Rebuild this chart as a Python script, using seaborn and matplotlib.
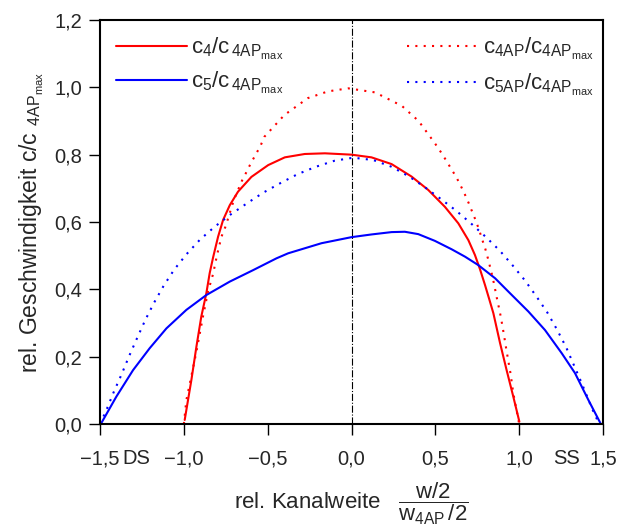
import numpy as np
import pandas as pd
import matplotlib
matplotlib.use("Agg")
import matplotlib.pyplot as plt
import seaborn as sns

# ---- Daten ----
# c4 / c4AP,max  (rot, durchgezogen)
x_c4 = [-0.995, -0.955, -0.925, -0.896, -0.866, -0.846, -0.826, -0.796, -0.766, -0.726,
        -0.677, -0.597, -0.497, -0.398, -0.279, -0.159, 0.0, 0.119, 0.239, 0.358,
        0.458, 0.557, 0.637, 0.697, 0.736, 0.766, 0.796, 0.820, 0.846, 0.886,
        0.925, 0.965, 1.001]
y_c4 = [0.012, 0.131, 0.230, 0.319, 0.388, 0.448, 0.494, 0.556, 0.606, 0.650,
        0.690, 0.734, 0.769, 0.792, 0.802, 0.804, 0.800, 0.792, 0.772, 0.735,
        0.695, 0.645, 0.596, 0.546, 0.502, 0.460, 0.413, 0.373, 0.329, 0.240,
        0.160, 0.081, 0.007]

# c5 / c4AP,max  (blau, durchgezogen)
x_c5 = [-1.493, -1.403, -1.303, -1.204, -1.104, -0.985, -0.866, -0.726, -0.587, -0.448,
        -0.378, -0.179, 0.0, 0.119, 0.239, 0.318, 0.398, 0.497, 0.597, 0.677,
        0.756, 0.856, 0.936, 1.055, 1.154, 1.254, 1.333, 1.413, 1.485]
y_c5 = [0.002, 0.081, 0.160, 0.225, 0.284, 0.339, 0.383, 0.423, 0.457, 0.492,
        0.507, 0.537, 0.555, 0.563, 0.570, 0.571, 0.564, 0.544, 0.519, 0.497,
        0.472, 0.433, 0.393, 0.334, 0.279, 0.210, 0.151, 0.071, 0.002]

# c4AP / c4AP,max  (rot, gepunktet)
x_c4ap = [-1.0, -0.985, -0.925, -0.886, -0.856, -0.826, -0.802, -0.776, -0.752, -0.736,
          -0.702, -0.677, -0.653, -0.627, -0.601, -0.573, -0.543, -0.52, -0.40, -0.26,
          -0.14, -0.02, 0.14, 0.30, 0.40, 0.497, 0.531, 0.563, 0.593, 0.623,
          0.649, 0.675, 0.699, 0.720, 0.742, 0.762, 0.780, 0.798, 0.814, 0.828,
          0.842, 0.854, 0.866, 0.878, 0.890, 0.900, 0.910, 0.919, 0.929, 0.939,
          0.949, 0.957, 0.965, 1.0]
y_c4ap = [0.0, 0.071, 0.215, 0.319, 0.393, 0.445, 0.502, 0.556, 0.586, 0.611,
          0.665, 0.695, 0.723, 0.748, 0.774, 0.799, 0.826, 0.853, 0.918, 0.968,
          0.988, 0.997, 0.985, 0.945, 0.900, 0.834, 0.809, 0.784, 0.759, 0.735,
          0.710, 0.683, 0.656, 0.630, 0.603, 0.575, 0.547, 0.520, 0.491, 0.463,
          0.435, 0.406, 0.376, 0.348, 0.319, 0.291, 0.262, 0.234, 0.205, 0.176,
          0.148, 0.119, 0.091, 0.0]

# c5AP / c4AP,max  (blau, gepunktet)
x_c5ap = [-1.5, -1.463, -1.419, -1.371, -1.327, -1.279, -1.230, -1.178, -1.120, -1.057,
          -0.983, -0.903, -0.816, -0.722, -0.625, -0.527, -0.426, -0.322, -0.213, -0.101,
          0.01, 0.130, 0.239, 0.344, 0.438, 0.531, 0.623, 0.712, 0.800, 0.884,
          0.961, 1.035, 1.104, 1.168, 1.226, 1.280, 1.327, 1.373, 1.417, 1.439, 1.477]
y_c5ap = [0.0, 0.040, 0.094, 0.148, 0.201, 0.255, 0.309, 0.360, 0.411, 0.459,
          0.505, 0.548, 0.586, 0.622, 0.655, 0.687, 0.715, 0.742, 0.764, 0.782,
          0.791, 0.784, 0.764, 0.735, 0.703, 0.669, 0.634, 0.596, 0.556, 0.515,
          0.471, 0.426, 0.378, 0.331, 0.280, 0.228, 0.174, 0.121, 0.067, 0.041, 0.0]

x_ticks = [-1.5, -1.0, -0.5, 0.0, 0.5, 1.0, 1.5]
x_ticklabels = ["−1,5", "−1,0", "−0,5", "0,0", "0,5", "1,0", "1,5"]
y_ticks = [0.0, 0.2, 0.4, 0.6, 0.8, 1.0, 1.2]
y_ticklabels = ["0,0", "0,2", "0,4", "0,6", "0,8", "1,0", "1,2"]

# ---- Stil ----
sns.set_style("ticks")
plt.rcParams.update({
    "font.family": ["Liberation Sans", "DejaVu Sans"],
    "mathtext.fontset": "custom",
    "mathtext.rm": "Liberation Sans",
    "mathtext.it": "Liberation Sans:italic",
    "mathtext.bf": "Liberation Sans:bold",
    "mathtext.default": "regular",
    "font.size": 14.5,
})

fig = plt.figure(figsize=(6.22, 5.26), dpi=100)
ax = fig.add_axes([0.1608, 0.1939, 0.8087, 0.7681])

dot = (0, (1, 3))
series = [
    (x_c4, y_c4, "red", "-", r"c$_4$/c$_{\,4AP_{max}}$"),
    (x_c5, y_c5, "blue", "-", r"c$_5$/c$_{\,4AP_{max}}$"),
    (x_c4ap, y_c4ap, "red", dot, r"c$_{4AP}$/c$_{4AP_{max}}$"),
    (x_c5ap, y_c5ap, "blue", dot, r"c$_{5AP}$/c$_{4AP_{max}}$"),
]
for xs, ys, col, ls, lab in series:
    df = pd.DataFrame({"x": xs, "y": ys})
    sns.lineplot(data=df, x="x", y="y", ax=ax, color=col, linestyle=ls,
                 linewidth=1.5, label=lab, sort=False, legend=False)

ax.axvline(0.0, color="black", linestyle="-.", linewidth=0.8)

ax.set_xlim(-1.5, 1.5)
ax.set_ylim(0.0, 1.2)
ax.set_xticks(x_ticks)
ax.set_xticklabels(x_ticklabels)
ax.set_yticks(y_ticks)
ax.set_yticklabels(y_ticklabels)
ax.tick_params(direction="out", length=8, width=1.0, labelsize=14.5, color="black")
ax.tick_params(axis="x", pad=10)
ax.tick_params(axis="y", pad=5)

for sp in ax.spines.values():
    sp.set_visible(True)
    sp.set_linewidth(1.5)
    sp.set_color("black")

# DS / SS Beschriftung neben den Randticks
trans = ax.get_xaxis_transform()
ax.text(-1.366, -0.0615, "DS", ha="left", va="top", fontsize=14.5, transform=trans)
ax.text(1.362, -0.0615, "SS", ha="right", va="top", fontsize=14.5, transform=trans)

ax.set_ylabel(r"rel. Geschwindigkeit c/c$_{\;\;4AP_{max}}$", fontsize=16.5, labelpad=6)
ax.set_xlabel(r"rel. Kanalweite   $\dfrac{w/2}{w_{4AP}\,/2}$", fontsize=16, labelpad=9)

lines = ax.get_lines()
leg1 = ax.legend(handles=lines[:2], loc="upper left", bbox_to_anchor=(0.0, 1.0),
                 frameon=False, handlelength=3.2, handletextpad=0.2, labelspacing=0.35,
                 fontsize=16, borderaxespad=0.3)
ax.add_artist(leg1)
ax.legend(handles=lines[2:4], loc="upper right", bbox_to_anchor=(1.012, 1.0),
          frameon=False, handlelength=3.2, handletextpad=0.2, labelspacing=0.45,
          fontsize=16, borderaxespad=0.3)

fig.savefig("out.png", dpi=100)
